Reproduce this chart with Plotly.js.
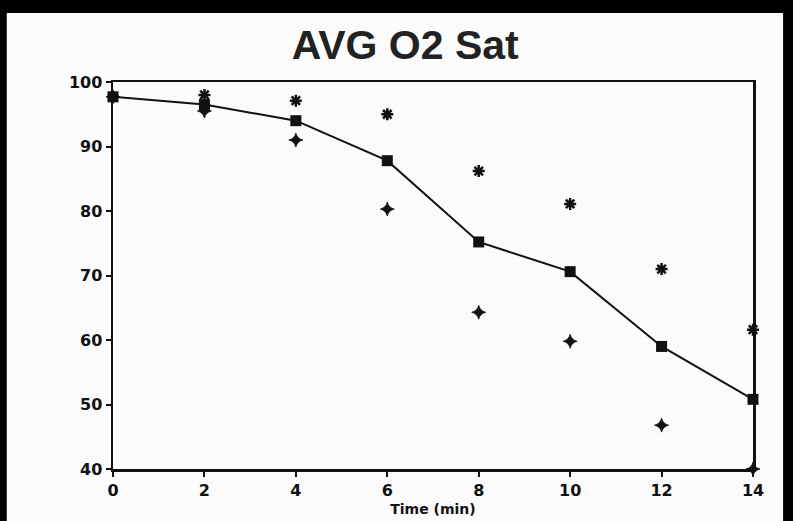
<!DOCTYPE html>
<html>
<head>
<meta charset="utf-8">
<script src="https://cdn.plot.ly/plotly-3.0.1.min.js"></script>
<style>html,body{margin:0;padding:0;background:#000;}#chart{width:793px;height:521px;}</style>
</head>
<body>
<div id="chart"></div>
<script>
var time = [0, 2, 4, 6, 8, 10, 12, 14];
var avgSat = [97.7, 96.5, 94.0, 87.8, 75.2, 70.6, 59.0, 50.8];
var highSat = [97.7, 98.0, 97.1, 95.0, 86.2, 81.1, 71.0, 61.6];
var lowSat = [97.7, 95.5, 91.0, 80.3, 64.3, 59.8, 46.8, 40.0];
var xTicks = [0, 2, 4, 6, 8, 10, 12, 14];
var yTicks = [40, 50, 60, 70, 80, 90, 100];

var traces = [
  {x: time, y: highSat, mode: 'markers', type: 'scatter', cliponaxis: false,
   marker: {symbol: 'asterisk-open', size: 10, color: '#111', line: {width: 2.5, color: '#111'}}},
  {x: time, y: lowSat, mode: 'markers', type: 'scatter', cliponaxis: false,
   marker: {symbol: 'star-diamond', size: 10, color: '#111', line: {width: 0.8, color: '#111'}}},
  {x: time, y: avgSat, mode: 'lines+markers', type: 'scatter', cliponaxis: false,
   line: {color: '#111', width: 2},
   marker: {symbol: 'square', size: 11, color: '#111'}}
];

var layout = {
  width: 793, height: 521,
  paper_bgcolor: '#000', plot_bgcolor: '#fff',
  showlegend: false,
  margin: {l: 113, r: 40, t: 82, b: 52},
  title: {text: 'AVG O2 Sat', x: 0.511, xref: 'container', xanchor: 'center',
          y: 0.915, yref: 'container', yanchor: 'middle',
          font: {family: 'Liberation Sans, Arial, sans-serif', size: 41, color: '#222', weight: 'bold'}},
  xaxis: {range: [0, 14], tickvals: xTicks, ticktext: xTicks.map(String),
          showgrid: false, zeroline: false, showline: true, mirror: true,
          linecolor: '#111', linewidth: 2.5, ticks: 'outside', ticklen: 5, tickwidth: 2, tickcolor: '#111',
          tickfont: {family: 'DejaVu Sans, sans-serif', size: 16, color: '#111', weight: 'bold'},
          title: {text: 'Time (min)', standoff: 6,
                  font: {family: 'DejaVu Sans, sans-serif', size: 14, color: '#111', weight: 'bold'}}},
  yaxis: {range: [40, 100], tickvals: yTicks, ticktext: yTicks.map(String),
          showgrid: false, zeroline: false, showline: true, mirror: true,
          linecolor: '#111', linewidth: 2.5, ticks: 'outside', ticklen: 5, tickwidth: 2, tickcolor: '#111',
          tickfont: {family: 'DejaVu Sans, sans-serif', size: 16, color: '#111', weight: 'bold'}},
  shapes: [{type: 'rect', xref: 'paper', yref: 'paper', layer: 'below',
            x0: -0.166, x1: 1.047, y0: -0.2, y1: 1.178,
            fillcolor: '#fbfbfb', line: {width: 0}}]
};

Plotly.newPlot('chart', traces, layout, {displayModeBar: false, staticPlot: true});
</script>
</body>
</html>
